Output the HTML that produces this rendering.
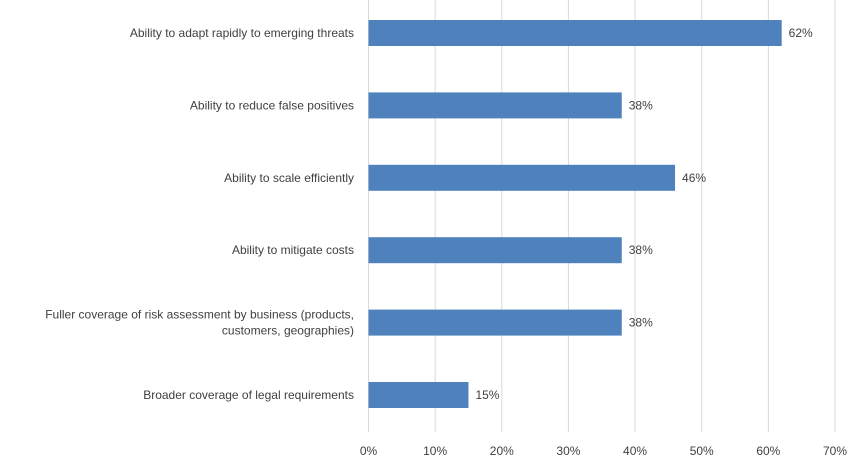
<!DOCTYPE html>
<html><head><meta charset="utf-8"><style>
body{margin:0;background:#fff;font-family:"Liberation Sans",sans-serif;}
svg text{font-family:"Liberation Sans",sans-serif;font-size:12px;fill:#404040;}
</style></head><body>
<svg width="858" height="466">
<g id="grid"></g><g id="bars"></g><g id="labels"></g>
</svg>
<script>
const categories=["Ability to adapt rapidly to emerging threats","Ability to reduce false positives","Ability to scale efficiently","Ability to mitigate costs","Fuller coverage of risk assessment by business (products,|customers, geographies)","Broader coverage of legal requirements"];
const values=[62,38,46,38,38,15];
const ticks=[0,10,20,30,40,50,60,70];
const NS="http://www.w3.org/2000/svg";
const x0=368.5,x70=835;
const xs=v=>x0+(x70-x0)*v/70;
const yc=i=>33+i*72.4;
function mk(t,a,p){const e=document.createElementNS(NS,t);for(const k in a)e.setAttribute(k,a[k]);p.appendChild(e);return e;}
const svg=document.querySelector('svg');
const grid=document.getElementById('grid'),bars=document.getElementById('bars'),labs=document.getElementById('labels');
ticks.forEach(t=>{
 const l=mk('line',{x1:xs(t),x2:xs(t),y1:0,y2:432,stroke:'#d9d9d9','stroke-width':1},grid);
 
 
 const tx=mk('text',{x:xs(t),y:455,'text-anchor':'middle'},grid);tx.textContent=t+'%';
 
 
});
values.forEach((v,i)=>{
 const r=mk('rect',{x:xs(0),y:yc(i)-13,width:xs(v)-xs(0),height:26,fill:'#4f81bd'},bars);
 
 
 const vl=mk('text',{x:xs(v)+7,y:yc(i)+4},labs);vl.textContent=v+'%';
 
 
 const parts=categories[i].split('|');
 parts.forEach((p,j)=>{
  const c=mk('text',{x:354,y:yc(i)+4+(j-(parts.length-1)/2)*16,'text-anchor':'end'},labs);c.textContent=p;
  
  
 });
});
</script>
</body></html>
